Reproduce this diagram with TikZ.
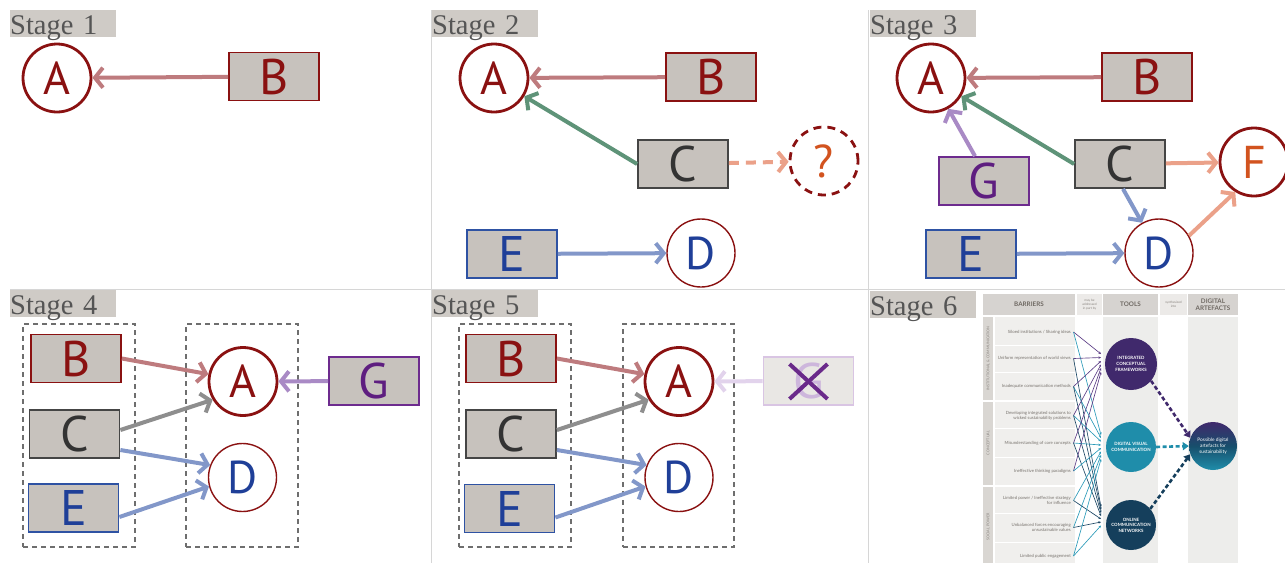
\documentclass[tikz,border=0pt]{standalone}
\usepackage{fontspec}
\setmainfont{Liberation Serif}
\newfontfamily\letfont{PT Sans}
\newfontfamily\infofont{Lato}
\usetikzlibrary{arrows.meta,calc}
\definecolor{labgray}{HTML}{CFCBC6}
\definecolor{labtext}{HTML}{555555}
\definecolor{dred}{HTML}{8A1111}
\definecolor{boxgray}{HTML}{C7C2BD}
\definecolor{rosearr}{HTML}{BE7B7E}
\definecolor{greenarr}{HTML}{5E9378}
\definecolor{salmon}{HTML}{EBA189}
\definecolor{bluearr}{HTML}{8297C9}
\definecolor{dblue}{HTML}{1F3F98}
\definecolor{eblue}{HTML}{2E52A3}
\definecolor{gpurple}{HTML}{6D2B8E}
\definecolor{gletter}{HTML}{5E1E80}
\definecolor{purparr}{HTML}{A98AC5}
\definecolor{grayarr}{HTML}{8E8E8E}
\definecolor{cstroke}{HTML}{454545}
\definecolor{cletter}{HTML}{333333}
\definecolor{orng}{HTML}{D2531F}
\definecolor{dashgray}{HTML}{6E6E6E}
\definecolor{panelline}{HTML}{D6D6D6}
\definecolor{fadefill}{HTML}{E9E7E4}
\definecolor{fadestroke}{HTML}{D9C5E3}
\definecolor{fadeletter}{HTML}{CDB6DC}
\definecolor{fadearr}{HTML}{E2D3EC}
\definecolor{xpurple}{HTML}{6A2A8A}
\definecolor{hdrgray}{HTML}{D6D3D0}
\definecolor{hdrlight}{HTML}{ECEAE8}
\definecolor{hdrtext}{HTML}{6E6862}
\definecolor{smalltext}{HTML}{8A8580}
\definecolor{colgray}{HTML}{EDEDEB}
\definecolor{rowgray}{HTML}{F0EFED}
\definecolor{catgray}{HTML}{D9D6D2}
\definecolor{bartext}{HTML}{77726D}
\definecolor{icfcol}{HTML}{40296C}
\definecolor{dvccol}{HTML}{1F8DAA}
\definecolor{onccol}{HTML}{153F5C}
\definecolor{lpurp}{HTML}{5C3D85}
\definecolor{lteal}{HTML}{2B9AB8}
\definecolor{lnavy}{HTML}{1E4865}
\tikzset{
  stagelbl/.style={fill=labgray, text=labtext, anchor=north west, minimum height=27pt,
    inner sep=0pt, text width=106pt, align=left, text height=21.5pt, text depth=0pt,
    font=\fontsize{28.5}{28.5}\selectfont},
  circ/.style={circle, draw=dred, line width=2.8pt, minimum size=68pt, inner sep=0pt,
    fill=white, text=dred, font=\letfont\fontsize{46}{46}\selectfont},
  thincirc/.style={circ, line width=1.4pt, text=dblue},
  blk/.style={rectangle, fill=boxgray, minimum width=90pt, minimum height=48pt,
    inner sep=0pt, line width=1.8pt, font=\letfont\fontsize{50}{50}\selectfont},
  bbox/.style={blk, draw=dred, text=dred},
  cbox/.style={blk, draw=cstroke, text=cletter},
  ebox/.style={blk, draw=eblue, text=dblue},
  gbox/.style={blk, draw=gpurple, text=gletter},
  arr/.style={line width=4pt, -{Straight Barb[length=8pt,width=20pt]}},
  dbox/.style={draw=dashgray, line width=1.5pt, dash pattern=on 5pt off 4pt,
    minimum height=223pt, inner sep=0pt},
  hdr/.style={fill=hdrgray, inner sep=0pt, minimum height=21pt, text=hdrtext,
    font=\infofont\bfseries\fontsize{6.3}{7}\selectfont, align=center},
  hdrs/.style={fill=hdrlight, inner sep=0pt, minimum height=21pt, text=smalltext,
    font=\infofont\fontsize{3.2}{3.7}\selectfont, align=center},
  cattxt/.style={rotate=90, text=smalltext, inner sep=0pt,
    font=\infofont\fontsize{3.7}{4}\selectfont},
  bartxt/.style={anchor=east, text=bartext, inner sep=0pt, align=right,
    font=\infofont\fontsize{4.3}{5.3}\selectfont},
  tool/.style={circle, inner sep=0pt, text=white, align=center,
    font=\infofont\bfseries\fontsize{4.4}{5.6}\selectfont},
  tarr/.style={line width=0.65pt, -{Stealth[length=2.6pt,width=2.4pt]}},
  bigdash/.style={line width=2.6pt, dash pattern=on 4pt off 2.5pt,
    -{Triangle[length=6pt,width=8pt]}}
}
\begin{document}
\begin{tikzpicture}[x=1pt,y=-1pt]
\useasboundingbox (0,0) rectangle (1285,563);
% panel dividers
\draw[panelline, line width=1pt] (10,289.5) -- (1285,289.5);
\draw[panelline, line width=1pt] (431.5,10) -- (431.5,563);
\draw[panelline, line width=1pt] (868.5,10) -- (868.5,563);

% ---------- Stage 1
\node[stagelbl] (s1) at (10,10) {Stage 1};
\node[circ] (A1) at (57,78) {A};
\node[bbox] (B1) at (274,76.5) {B};
\draw[arr, rosearr] (B1) -- (A1);

% ---------- Stage 2
\node[stagelbl] (s2) at (432,10) {Stage 2};
\node[circ] (A2) at (494,78) {A};
\node[bbox] (B2) at (711,77) {B};
\node[cbox] (C2) at (683,164) {C};
\node[circ, dash pattern=on 8pt off 6pt, text=orng] (Q2) at (824,161) {?};
\node[ebox] (E2) at (512,254) {E};
\node[thincirc] (D2) at (701,253) {D};
\draw[arr, rosearr] (B2) -- (A2);
\draw[arr, greenarr] (C2.west) -- (A2);
\draw[arr, salmon, dash pattern=on 10pt off 7pt] (C2) -- (Q2);
\draw[arr, bluearr] (E2) -- (D2);

% ---------- Stage 3
\node[stagelbl] (s3) at (870,10) {Stage 3};
\node[circ] (A3) at (931,78) {A};
\node[bbox] (B3) at (1147,77) {B};
\node[cbox] (C3) at (1120,164) {C};
\node[gbox] (G3) at (984,181) {G};
\node[ebox] (E3) at (971,254) {E};
\node[thincirc] (D3) at (1159,253) {D};
\node[circ, text=orng] (F3) at (1254,162) {F};
\draw[arr, rosearr] (B3) -- (A3);
\draw[arr, greenarr] (C3.west) -- (A3);
\draw[arr, purparr] ([xshift=-9pt]G3.north) -- (A3);
\draw[arr, salmon] (C3) -- (F3);
\draw[arr, bluearr] ([xshift=3pt]C3.south) -- (D3);
\draw[arr, salmon] (D3.30) -- (F3.238);
\draw[arr, bluearr] (E3) -- (D3);

% ---------- Stage 4
\node[stagelbl] (s4) at (10,290) {Stage 4};
\node[dbox, minimum width=112pt] (L4) at (79,435.5) {};
\node[dbox, minimum width=112pt] (R4) at (242,435.5) {};
\node[bbox] (B4) at (76,358.5) {B};
\node[cbox] (C4) at (74.5,434) {C};
\node[ebox] (E4) at (73.5,508) {E};
\node[circ] (A4) at (243,381.5) {A};
\node[thincirc] (D4) at (242.5,477.5) {D};
\node[gbox] (G4) at (374,381) {G};
\draw[arr, rosearr] (B4.east) -- (A4.168);
\draw[arr, grayarr] ([yshift=4pt]C4.east) -- (A4.211);
\draw[arr, bluearr] ([yshift=-16pt]C4.east) -- (D4.159);
\draw[arr, bluearr] ([yshift=-9pt]E4.east) -- (D4.195);
\draw[arr, purparr] (G4) -- (A4);

% ---------- Stage 5
\node[stagelbl] (s5) at (432,290) {Stage 5};
\node[dbox, minimum width=112pt] (L5) at (515,435.5) {};
\node[dbox, minimum width=111pt] (R5) at (678.5,435.5) {};
\node[bbox] (B5) at (511,358.5) {B};
\node[cbox] (C5) at (511,434) {C};
\node[ebox] (E5) at (509.5,508.5) {E};
\node[circ] (A5) at (679,381.5) {A};
\node[thincirc] (D5) at (679,477.5) {D};
\node[blk, fill=fadefill, draw=fadestroke, text=fadeletter] (G5) at (808.5,381) {G};
\draw[xpurple, line width=4pt] ($(G5)+(-19,-17)$) -- ($(G5)+(19,18)$);
\draw[xpurple, line width=4pt] ($(G5)+(19,-17)$) -- ($(G5)+(-19,18)$);
\draw[arr, rosearr] (B5.east) -- (A5.168);
\draw[arr, grayarr] ([yshift=4pt]C5.east) -- (A5.211);
\draw[arr, bluearr] ([yshift=-16pt]C5.east) -- (D5.159);
\draw[arr, bluearr] ([yshift=-9pt]E5.east) -- (D5.195);
\draw[arr, fadearr] (G5) -- (A5);

% ---------- Stage 6
\node[stagelbl] (s6) at (870,291) {Stage 6};
% headers
\node[hdr, minimum width=92pt] (hBar) at (1029,304.5) {BARRIERS};
\node[hdrs, minimum width=25pt] (hMay) at (1089.5,304.5) {may be\\addressed\\in part by};
\node[hdr, minimum width=55pt] (hTools) at (1130.5,304.5) {TOOLS};
\node[hdrs, minimum width=27pt] (hSyn) at (1173.5,304.5) {synthesized\\into};
\node[hdr, minimum width=50pt] (hDig) at (1213,304.5) {DIGITAL\\ARTEFACTS};
% columns
\fill[colgray] (1103,317) rectangle (1158,563);
\fill[colgray] (1188,317) rectangle (1238,563);
\fill[catgray] (983,317) rectangle (993,400);
\fill[catgray] (983,402) rectangle (993,484.5);
\fill[catgray] (983,487) rectangle (993,563);
\foreach \ya/\yb in {317/344.5, 345.5/371.5, 372.5/400, 402/427.5, 428.5/456.5,
  457.5/484.5, 487/512.5, 513.5/541.5, 542.5/563}
  \fill[rowgray] (995,\ya) rectangle (1075,\yb);
\node[cattxt] (cat1) at (988,358.5) {INSTITUTIONAL \& COMMUNICATION};
\node[cattxt] (cat2) at (988,443) {CONCEPTUAL};
\node[cattxt] (cat3) at (988,527) {SOCIAL POWER};
% barriers
\node[bartxt] (b1) at (1071,332) {Siloed institutions / Sharing ideas};
\node[bartxt] (b2) at (1071,358.5) {Uniform representation of world views};
\node[bartxt] (b3) at (1071,386.5) {Inadequate communication methods};
\node[bartxt] (b4) at (1071,415.5) {Developing integrated solutions to\\wicked sustainability problems};
\node[bartxt] (b5) at (1071,443) {Misunderstanding of core concepts};
\node[bartxt] (b6) at (1071,471) {Ineffective thinking paradigms};
\node[bartxt] (b7) at (1071,500.5) {Limited power / Ineffective strategy\\for influence};
\node[bartxt] (b8) at (1071,527.5) {Unbalanced forces encouraging\\unsustainable values};
\node[bartxt] (b9) at (1071,556) {Limited public engagement};
\foreach \n/\y in {1/332,2/358.5,3/386.5,4/415.5,5/443,6/471,7/500.5,8/527.5,9/556}
  \coordinate (p\n) at (1073.5,\y);
% arrow end points
\foreach \n/\y in {1/354,2/357.5,3/361,4/364.5,5/368,6/372}
  \coordinate (i\n) at (1101,\y);
\foreach \n/\y in {1/435,2/438,3/441.5,4/445,5/448,6/451.5,7/455,8/459}
  \coordinate (d\n) at (1101,\y);
\foreach \n/\y in {1/507,2/510,3/513,4/516,5/519,6/522,7/525.5}
  \coordinate (o\n) at (1101,\y);
\foreach \s/\t/\c in {p1/i1/lpurp, p1/d1/lteal, p2/i2/lpurp, p2/o1/lnavy,
  p3/i3/lpurp, p3/d2/lteal, p3/o2/lnavy, p4/i4/lpurp, p4/d3/lteal, p4/o3/lnavy,
  p5/i5/lpurp, p5/d4/lteal, p5/o4/lnavy, p6/i6/lpurp, p6/d5/lteal,
  p7/d6/lteal, p7/o5/lnavy, p8/d7/lteal, p8/o6/lnavy, p9/d8/lteal, p9/o7/lteal}
  \draw[tarr, \c] (\s) -- (\t);
% tools
\node[tool, fill=icfcol, minimum size=52pt] (ICF) at (1131,364) {INTEGRATED\\CONCEPTUAL\\FRAMEWORKS};
\node[tool, fill=dvccol, minimum size=50pt] (DVC) at (1131,447) {DIGITAL VISUAL\\COMMUNICATION};
\node[tool, fill=onccol, minimum size=50pt] (ONC) at (1131,525) {ONLINE\\COMMUNICATION\\NETWORKS};
\node[circle, inner sep=0pt, minimum size=48pt, top color=icfcol, bottom color=dvccol,
  middle color=onccol!80!dvccol, text=white, align=center,
  font=\infofont\fontsize{4.8}{6.2}\selectfont] (ART) at (1213,446)
  {Possible digital\\artefacts for\\sustainability};
\draw[bigdash, icfcol] (ICF.-40) -- (ART.160);
\draw[bigdash, dvccol] (DVC.east) -- (ART.west);
\draw[bigdash, onccol] (ONC.40) -- (ART.200);
\end{tikzpicture}
\end{document}
